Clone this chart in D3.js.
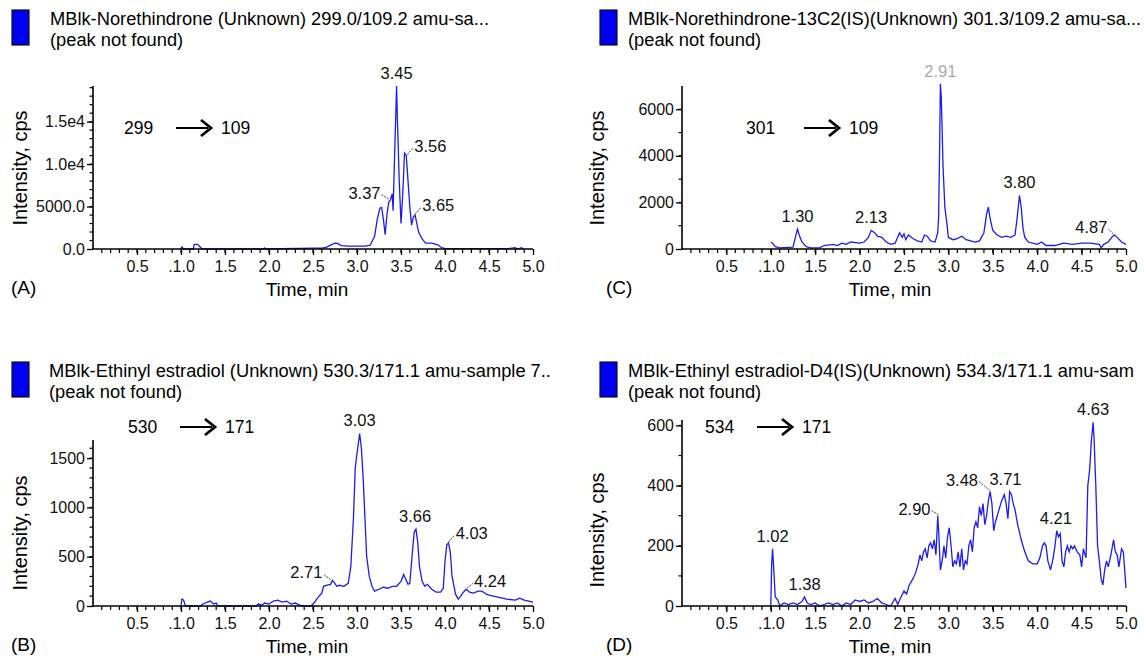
<!DOCTYPE html>
<html>
<head>
<meta charset="utf-8">
<script src="https://cdn.jsdelivr.net/npm/d3@7"></script>
<style>
  body { margin: 0; background: #fff; }
  svg { display: block; font-family: "Liberation Sans", Arial, sans-serif; }
</style>
</head>
<body>
<div id="chart"></div>
<script>
// ---- data ----
var xTicks = [0.5, 1.0, 1.5, 2.0, 2.5, 3.0, 3.5, 4.0, 4.5, 5.0];
var xTickLabels = ["0.5", ".1.0", "1.5", "2.0", "2.5", "3.0", "3.5", "4.0", "4.5", "5.0"];

// (A) norethindrone 299 -> 109
var traceA = [[1.00,0],[1.01,250],[1.03,0],[1.14,0],[1.15,550],[1.19,550],[1.22,200],[1.24,0],[1.94,0],[1.95,120],[1.96,0],
  [2.50,100],[2.60,100],[2.65,200],[2.70,450],[2.75,700],[2.78,650],[2.82,400],[2.90,350],[3.00,350],[3.10,350],[3.15,450],
  [3.20,1500],[3.23,3500],[3.26,4800],[3.28,4900],[3.30,3500],[3.32,1700],[3.34,4000],[3.36,5500],[3.38,5800],[3.40,6500],
  [3.41,4500],[3.43,12000],[3.45,19200],[3.46,15000],[3.48,8000],[3.50,3000],[3.52,6500],[3.54,11300],[3.56,11000],
  [3.58,8000],[3.60,5000],[3.62,2800],[3.64,3800],[3.66,4000],[3.68,3000],[3.70,2000],[3.74,1200],[3.78,700],[3.85,700],
  [3.92,500],[3.96,150],[4.00,80],[4.30,50],[4.66,50],[4.68,0],[4.80,150],[4.82,0],[4.87,150],[4.89,0]];
var yTicksA = [0, 5000, 10000, 15000];
var yTickLabelsA = ["0.0", "5000.0", "1.0e4", "1.5e4"];
var peaksA = [[3.45, 19200, "3.45"], [3.37, 5800, "3.37"], [3.56, 11000, "3.56"], [3.65, 4000, "3.65"]];

// (C) norethindrone-13C2 301 -> 109
var traceC = [[1.00,300],[1.02,250],[1.05,100],[1.10,50],[1.25,80],[1.27,400],[1.30,850],[1.32,600],[1.35,300],[1.40,100],
  [1.45,50],[1.55,50],[1.60,150],[1.70,200],[1.75,150],[1.80,250],[1.85,200],[1.90,300],[2.00,250],[2.05,300],[2.10,500],
  [2.13,800],[2.17,700],[2.20,550],[2.25,500],[2.30,300],[2.35,200],[2.40,250],[2.45,700],[2.48,500],[2.50,650],[2.52,400],
  [2.55,600],[2.60,450],[2.65,350],[2.70,300],[2.73,600],[2.76,550],[2.80,350],[2.85,300],[2.88,700],[2.89,1400],[2.90,4000],
  [2.91,7100],[2.92,6500],[2.94,3500],[2.96,1800],[2.98,1200],[3.00,500],[3.05,400],[3.10,450],[3.15,550],[3.20,400],
  [3.30,300],[3.35,350],[3.40,700],[3.43,1500],[3.45,1800],[3.47,1300],[3.50,800],[3.55,600],[3.60,500],[3.65,550],
  [3.70,500],[3.75,600],[3.77,1200],[3.80,2300],[3.82,1800],[3.84,900],[3.86,500],[3.90,300],[4.00,200],[4.05,300],
  [4.10,150],[4.20,150],[4.30,250],[4.40,200],[4.50,250],[4.60,250],[4.70,200],[4.72,50],[4.75,200],[4.80,300],[4.85,550],
  [4.87,600],[4.90,500],[4.95,300],[5.00,200]];
var yTicksC = [0, 2000, 4000, 6000];
var yTickLabelsC = ["0", "2000", "4000", "6000"];
var peaksC = [[2.91, 7100, "2.91"], [1.30, 850, "1.30"], [2.13, 800, "2.13"], [3.80, 2300, "3.80"], [4.87, 600, "4.87"]];

// (B) ethinyl estradiol 530 -> 171
var traceB = [[1.00,0],[1.01,70],[1.03,60],[1.05,0],[1.22,0],[1.25,20],[1.30,40],[1.33,50],[1.37,20],[1.40,30],[1.42,0],
  [1.85,0],[1.88,20],[1.92,10],[1.95,30],[2.00,20],[2.05,50],[2.10,60],[2.15,40],[2.20,50],[2.25,20],[2.30,30],[2.35,10],
  [2.40,0],[2.48,0],[2.52,40],[2.55,80],[2.60,130],[2.62,200],[2.65,210],[2.70,220],[2.72,260],[2.74,240],[2.77,200],
  [2.80,210],[2.85,200],[2.90,230],[2.93,400],[2.96,900],[2.98,1400],[3.00,1550],[3.02,1680],[3.03,1750],[3.05,1600],
  [3.07,1300],[3.09,900],[3.11,500],[3.14,300],[3.17,200],[3.20,150],[3.25,170],[3.30,190],[3.35,180],[3.40,200],
  [3.45,200],[3.50,250],[3.53,320],[3.55,280],[3.58,220],[3.60,230],[3.63,550],[3.65,750],[3.67,780],[3.69,650],
  [3.71,400],[3.74,250],[3.77,200],[3.80,220],[3.85,170],[3.90,140],[3.95,140],[3.98,180],[4.00,450],[4.02,620],
  [4.04,640],[4.06,550],[4.08,300],[4.12,120],[4.15,70],[4.18,100],[4.20,130],[4.24,170],[4.28,140],[4.32,130],
  [4.38,150],[4.42,150],[4.47,120],[4.50,110],[4.60,90],[4.70,70],[4.80,60],[4.85,80],[4.90,60],[4.95,50],[5.00,40]];
var yTicksB = [0, 500, 1000, 1500];
var yTickLabelsB = ["0", "500", "1000", "1500"];
var peaksB = [[3.03, 1750, "3.03"], [2.71, 260, "2.71"], [3.66, 780, "3.66"], [4.03, 640, "4.03"], [4.24, 170, "4.24"]];

// (D) ethinyl estradiol-D4 534 -> 171
var traceD = [[1.00,0],[1.01,140],[1.02,190],[1.03,140],[1.05,30],[1.08,20],[1.10,0],[1.15,10],[1.20,5],[1.25,10],[1.30,5],
  [1.35,15],[1.38,30],[1.41,10],[1.45,5],[1.50,10],[1.55,0],[1.60,5],[1.65,10],[1.70,5],[1.75,10],[1.80,0],[1.85,10],
  [1.90,5],[1.95,20],[2.00,15],[2.05,20],[2.10,10],[2.15,15],[2.20,25],[2.25,10],[2.30,5],[2.35,0],[2.40,25],[2.43,5],
  [2.45,20],[2.50,50],[2.53,40],[2.56,70],[2.60,90],[2.63,110],[2.66,140],[2.68,170],[2.70,150],[2.72,180],[2.74,190],
  [2.76,160],[2.78,200],[2.80,210],[2.82,190],[2.84,220],[2.86,170],[2.88,300],[2.89,250],[2.91,120],[2.93,150],
  [2.95,200],[2.97,160],[2.99,230],[3.01,260],[3.03,200],[3.05,130],[3.07,150],[3.09,140],[3.11,180],[3.13,130],
  [3.15,190],[3.17,120],[3.19,150],[3.21,140],[3.23,200],[3.25,220],[3.27,180],[3.29,260],[3.31,280],[3.33,260],
  [3.35,330],[3.37,300],[3.39,340],[3.41,270],[3.43,300],[3.45,350],[3.47,380],[3.49,340],[3.51,250],[3.53,280],
  [3.55,300],[3.57,320],[3.60,350],[3.63,370],[3.65,340],[3.67,290],[3.69,380],[3.71,370],[3.73,340],[3.75,320],
  [3.78,270],[3.82,220],[3.86,180],[3.90,150],[3.95,140],[4.00,140],[4.03,160],[4.06,200],[4.08,210],[4.10,200],
  [4.12,150],[4.15,120],[4.18,160],[4.20,200],[4.22,250],[4.24,230],[4.26,240],[4.28,150],[4.30,130],[4.32,180],
  [4.34,200],[4.36,180],[4.38,200],[4.40,190],[4.42,200],[4.45,180],[4.48,170],[4.50,130],[4.52,190],[4.55,160],
  [4.57,400],[4.59,450],[4.61,550],[4.63,610],[4.64,560],[4.66,400],[4.68,200],[4.70,150],[4.72,90],[4.74,70],
  [4.76,120],[4.78,150],[4.80,130],[4.83,170],[4.86,220],[4.88,180],[4.90,170],[4.92,130],[4.95,190],[4.97,180],[5.00,60]];
var yTicksD = [0, 200, 400, 600];
var yTickLabelsD = ["0", "200", "400", "600"];
var peaksD = [[4.63, 610, "4.63"], [1.02, 190, "1.02"], [1.38, 30, "1.38"], [2.90, 300, "2.90"], [3.48, 380, "3.48"], [3.71, 370, "3.71"], [4.21, 250, "4.21"]];

var svg = d3.select("#chart").append("svg")
  .attr("width", 1144)
  .attr("height", 656);

function drawPanel(p) {
  var g = svg.append("g");
  var x = d3.scaleLinear().domain([0, 5]).range([p.left, p.right]);
  var y = d3.scaleLinear().domain([0, p.ymax]).range([p.bottom, p.top]);

  // header
  g.append("rect").attr("x", p.hx).attr("y", p.hy).attr("width", 17).attr("height", 35)
    .attr("fill", "#0000f0").attr("stroke", "#111").attr("stroke-width", 1.2);
  g.append("text").attr("x", p.tx).attr("y", p.hy + 15).attr("font-size", 18.3).text(p.title);
  g.append("text").attr("x", p.tx).attr("y", p.hy + 36).attr("font-size", 18.3).text("(peak not found)");

  // trace
  g.append("path").datum(p.trace)
    .attr("fill", "none").attr("stroke", "#1c1cf0").attr("stroke-width", 1.3)
    .attr("d", d3.line().x(function(d) { return x(d[0]); }).y(function(d) { return y(d[1]); }));

  // axes
  var xAxis = d3.axisBottom(x).tickValues(xTicks).tickSize(6)
    .tickFormat(function(d, i) { return xTickLabels[i]; });
  var gx = g.append("g").attr("transform", "translate(0," + p.bottom + ")").call(xAxis)
    .attr("font-family", null);
  gx.selectAll(".tick line").attr("stroke", "#000").attr("stroke-width", 1.3);
  gx.selectAll("text").attr("font-size", 16).attr("y", 12).attr("dy", "0.71em").attr("fill", "#111");
  gx.select(".domain").attr("d", "M" + (p.left - 1) + ",0H" + p.right).attr("stroke", "#000").attr("stroke-width", 1.6);
  gx.selectAll("line.minor").data(d3.range(0.1, 5.0, 0.1)).enter().append("line")
    .attr("class", "minor")
    .attr("x1", function(d) { return x(d); }).attr("x2", function(d) { return x(d); })
    .attr("y1", 0).attr("y2", 4).attr("stroke", "#000").attr("stroke-width", 1.2);

  var yAxis = d3.axisLeft(y).tickValues(p.yTicks).tickSize(6)
    .tickFormat(function(d, i) { return p.yLabels[i]; });
  var gy = g.append("g").attr("transform", "translate(" + p.left + ",0)").call(yAxis)
    .attr("font-family", null);
  gy.selectAll(".tick line").attr("stroke", "#000").attr("stroke-width", 1.3);
  gy.selectAll("text").attr("font-size", 16).attr("x", -8).attr("fill", "#111");
  gy.select(".domain").attr("d", "M0," + p.top + "V" + p.bottom).attr("stroke", "#000").attr("stroke-width", 1.6);
  gy.selectAll("line.minor").data(d3.range(p.yMinor, p.ymax, p.yMinor)).enter().append("line")
    .attr("class", "minor")
    .attr("y1", function(d) { return y(d); }).attr("y2", function(d) { return y(d); })
    .attr("x1", 0).attr("x2", -3.5).attr("stroke", "#000").attr("stroke-width", 1.2);

  // axis titles
  g.append("text").attr("x", p.timeX).attr("y", p.bottom + 47)
    .attr("text-anchor", "middle").attr("font-size", 19).text("Time, min");
  g.append("text").attr("transform", "translate(" + p.ylabX + "," + p.ylabY + ") rotate(-90)")
    .attr("text-anchor", "middle").attr("font-size", 20).text("Intensity, cps");
  g.append("text").attr("x", p.lx).attr("y", p.bottom + 45).attr("font-size", 19).text(p.letter);

  // transition label
  g.append("text").attr("x", p.mx).attr("y", p.my).attr("font-size", 17.5).text(p.mz[0]);
  g.append("line").attr("x1", p.mx + p.ax).attr("x2", p.mx + p.ax + 32).attr("y1", p.my - 6).attr("y2", p.my - 6)
    .attr("stroke", "#000").attr("stroke-width", 2);
  g.append("path").attr("d", "M" + (p.mx + p.ax + 25) + "," + (p.my - 14) + "L" + (p.mx + p.ax + 35) + "," + (p.my - 6) + "L" + (p.mx + p.ax + 25) + "," + (p.my + 2))
    .attr("fill", "none").attr("stroke", "#000").attr("stroke-width", 2.8);
  g.append("text").attr("x", p.mx + p.ax + 45).attr("y", p.my).attr("font-size", 17.5).text(p.mz[1]);

  // peak labels
  p.peaks.forEach(function(pk, i) {
    var o = p.labelPos[i];
    var px = x(pk[0]), py = y(pk[1]);
    var t = g.append("text").attr("font-size", 16.5).text(pk[2])
      .attr("fill", o.c || "#111");
    if (o.lead) {
      var lx = px + o.dx, ly = py + o.dy;
      t.attr("x", lx + (o.dx < 0 ? -1 : 1)).attr("y", ly + 4)
        .attr("text-anchor", o.dx < 0 ? "end" : "start");
      g.append("line").attr("x1", px + (o.dx < 0 ? -1 : 1)).attr("y1", py - 1).attr("x2", lx).attr("y2", ly)
        .attr("stroke", "#333").attr("stroke-width", 0.9).attr("stroke-dasharray", "2,1");
    } else {
      t.attr("x", px + (o.ox || 0)).attr("y", py - 7 + (o.oy || 0)).attr("text-anchor", "middle");
    }
  });
}

drawPanel({ title: "MBlk-Norethindrone (Unknown) 299.0/109.2 amu-sa...", letter: "(A)",
  hx: 12, tx: 50, lx: 11, hy: 10, left: 93, right: 533, top: 86, bottom: 249, ymax: 19200, yMinor: 1000,
  yTicks: yTicksA, yLabels: yTickLabelsA, trace: traceA, peaks: peaksA, ylabX: 27, ylabY: 168, timeX: 307,
  mx: 124, my: 134, ax: 52, mz: ["299", "109"],
  labelPos: [{}, {lead: 1, dx: -8, dy: -5}, {lead: 1, dx: 7, dy: -8}, {lead: 1, dx: 7, dy: -8}] });

drawPanel({ title: "MBlk-Norethindrone-13C2(IS)(Unknown) 301.3/109.2 amu-sa...", letter: "(C)",
  hx: 600, tx: 628, lx: 606, hy: 10, left: 682, right: 1126, top: 86, bottom: 249, ymax: 7000, yMinor: 1000,
  yTicks: yTicksC, yLabels: yTickLabelsC, trace: traceC, peaks: peaksC, ylabX: 604, ylabY: 168, timeX: 890,
  mx: 746, my: 134, ax: 58, mz: ["301", "109"],
  labelPos: [{c: "#aaa"}, {}, {}, {}, {lead: 1, dx: -6, dy: -6}] });

drawPanel({ title: "MBlk-Ethinyl estradiol (Unknown) 530.3/171.1 amu-sample 7..", letter: "(B)",
  hx: 12, tx: 49, lx: 11, hy: 362, left: 93, right: 533, top: 440, bottom: 606, ymax: 1684, yMinor: 100,
  yTicks: yTicksB, yLabels: yTickLabelsB, trace: traceB, peaks: peaksB, ylabX: 27, ylabY: 533, timeX: 307,
  mx: 128, my: 433, ax: 52, mz: ["530", "171"],
  labelPos: [{}, {lead: 1, dx: -8, dy: -6}, {}, {lead: 1, dx: 7, dy: -8}, {lead: 1, dx: 7, dy: -6}] });

drawPanel({ title: "MBlk-Ethinyl estradiol-D4(IS)(Unknown) 534.3/171.1 amu-sam", letter: "(D)",
  hx: 600, tx: 628, lx: 606, hy: 362, left: 682, right: 1126, top: 420, bottom: 606, ymax: 618, yMinor: 100,
  yTicks: yTicksD, yLabels: yTickLabelsD, trace: traceD, peaks: peaksD, ylabX: 604, ylabY: 530, timeX: 890,
  mx: 705, my: 433, ax: 52, mz: ["534", "171"],
  labelPos: [{}, {}, {}, {lead: 1, dx: -8, dy: -5}, {lead: 1, dx: -12, dy: -10}, {ox: -6, oy: -3}, {}] });
</script>
</body>
</html>
